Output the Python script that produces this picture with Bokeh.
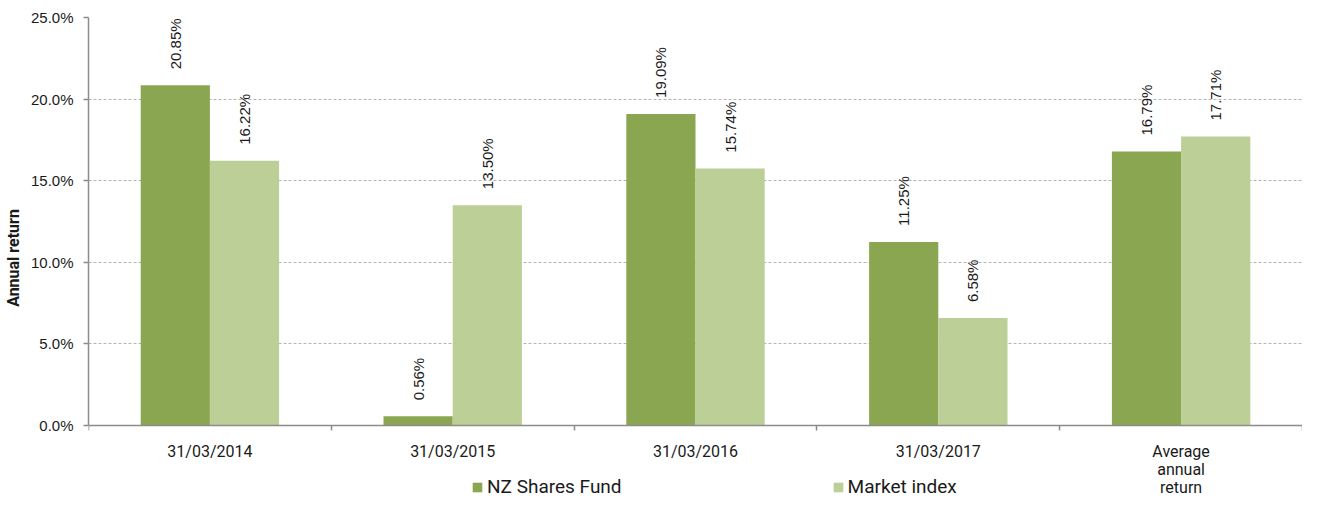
from math import pi
from bokeh.plotting import figure
from bokeh.models import (Range1d, FixedTicker, PrintfTickFormatter, ColumnDataSource,
                          LabelSet, Legend, LegendItem)
from bokeh.core.properties import value
from bokeh.transform import dodge
from bokeh.embed import file_html
from bokeh.resources import INLINE

categories = ["31/03/2014", "31/03/2015", "31/03/2016", "31/03/2017", "Average\nannual\nreturn"]
fund = [20.85, 0.56, 19.09, 11.25, 16.79]
market = [16.22, 13.50, 15.74, 6.58, 17.71]
series_names = ["NZ Shares Fund", "Market index"]
y_ticks = [0, 5, 10, 15, 20, 25]
y_max = 25

DARK = "#8ba650"
LIGHT = "#bbcf97"
AXIS = "#8c8c8c"
TXT = "#1a1a1a"

# layout (pixels)
W_FIG, H_FIG = 1302, 498
TOP, LEFT = 17, 87
ZERO_Y = 425                      # pixel row of the 0% line
FRAME_H = H_FIG - TOP
PLOT_H = ZERO_Y - TOP
y_start = -y_max * (FRAME_H - PLOT_H) / PLOT_H

src = ColumnDataSource(dict(
    x=list(range(len(categories))),
    fund=fund,
    market=market,
    fund_lbl=[f"{v:.2f}%" for v in fund],
    market_lbl=[f"{v:.2f}%" for v in market],
))

p = figure(width=W_FIG, height=H_FIG, output_backend="svg", toolbar_location=None,
           x_range=Range1d(-0.5, len(categories) - 0.5), y_range=Range1d(y_start, y_max),
           min_border_left=LEFT, min_border_right=0, min_border_top=TOP, min_border_bottom=0)
p.outline_line_color = None

OFF = 0.1425
W = 0.285
r1 = p.vbar(x=dodge("x", -OFF), top="fund", width=W, source=src,
            fill_color=DARK, line_color=None)
r2 = p.vbar(x=dodge("x", OFF), top="market", width=W, source=src,
            fill_color=LIGHT, line_color=None)

# grid
p.xgrid.visible = False
p.ygrid.ticker = FixedTicker(ticks=y_ticks)
p.ygrid.grid_line_color = "#b4b4b4"
p.ygrid.grid_line_dash = "3 2"
p.ygrid.grid_line_width = 1
p.ygrid.level = "underlay"

# x axis, pinned to the 0% line
xa = p.xaxis[0]
xa.fixed_location = 0
xa.ticker = FixedTicker(ticks=list(range(len(categories))),
                        minor_ticks=[i - 0.5 for i in range(len(categories) + 1)])
xa.major_label_overrides = {i: c for i, c in enumerate(categories)}
xa.major_tick_out = 0
xa.major_tick_in = 0
xa.minor_tick_out = 5
xa.minor_tick_in = 0
xa.minor_tick_line_color = AXIS
xa.minor_tick_line_width = 1.5
xa.axis_line_color = AXIS
xa.axis_line_width = 1.5
xa.major_label_standoff = 11
xa.major_label_text_font = "Roboto"
xa.major_label_text_font_size = "16px"
xa.major_label_text_color = TXT
xa.major_label_text_line_height = 0.95

# y axis
ya = p.yaxis[0]
ya.bounds = (0, y_max)
ya.ticker = FixedTicker(ticks=y_ticks)
ya.formatter = PrintfTickFormatter(format="%.1f%%")
ya.major_tick_out = 5
ya.major_tick_in = 0
ya.minor_tick_out = 0
ya.minor_tick_in = 0
ya.major_tick_line_color = AXIS
ya.major_tick_line_width = 1.5
ya.axis_line_color = AXIS
ya.axis_line_width = 1.5
ya.major_label_standoff = 10
ya.major_label_text_font = "Liberation Sans"
ya.major_label_text_font_size = "15px"
ya.major_label_text_color = TXT
ya.axis_label = "Annual return"
ya.axis_label_text_font = "Roboto"
ya.axis_label_text_font_style = "bold"
ya.axis_label_text_font_size = "16px"
ya.axis_label_text_color = TXT
ya.axis_label_standoff = 5

# data labels
for col, lbl, off in (("fund", "fund_lbl", -OFF), ("market", "market_lbl", OFF)):
    p.add_layout(LabelSet(x=dodge("x", off), y=col, text=lbl, source=src,
                          angle=pi / 2, text_align="left", text_baseline="middle",
                          y_offset=16, text_font=value("Liberation Sans"),
                          text_font_size=value("15px"), text_color=TXT))

# legend (inside the frame, in the strip below the 0% line)
legend = Legend(items=[LegendItem(label=series_names[0], renderers=[r1]),
                       LegendItem(label=series_names[1], renderers=[r2])],
                orientation="horizontal", location=(383, 0),
                glyph_width=12, glyph_height=12, label_standoff=4, spacing=210,
                padding=0, margin=0, border_line_color=None, background_fill_alpha=0,
                label_text_font="Roboto", label_text_font_size="19px",
                label_text_color=TXT, label_height=20)
p.add_layout(legend)

open("out.html", "w").write(file_html(p, INLINE))
